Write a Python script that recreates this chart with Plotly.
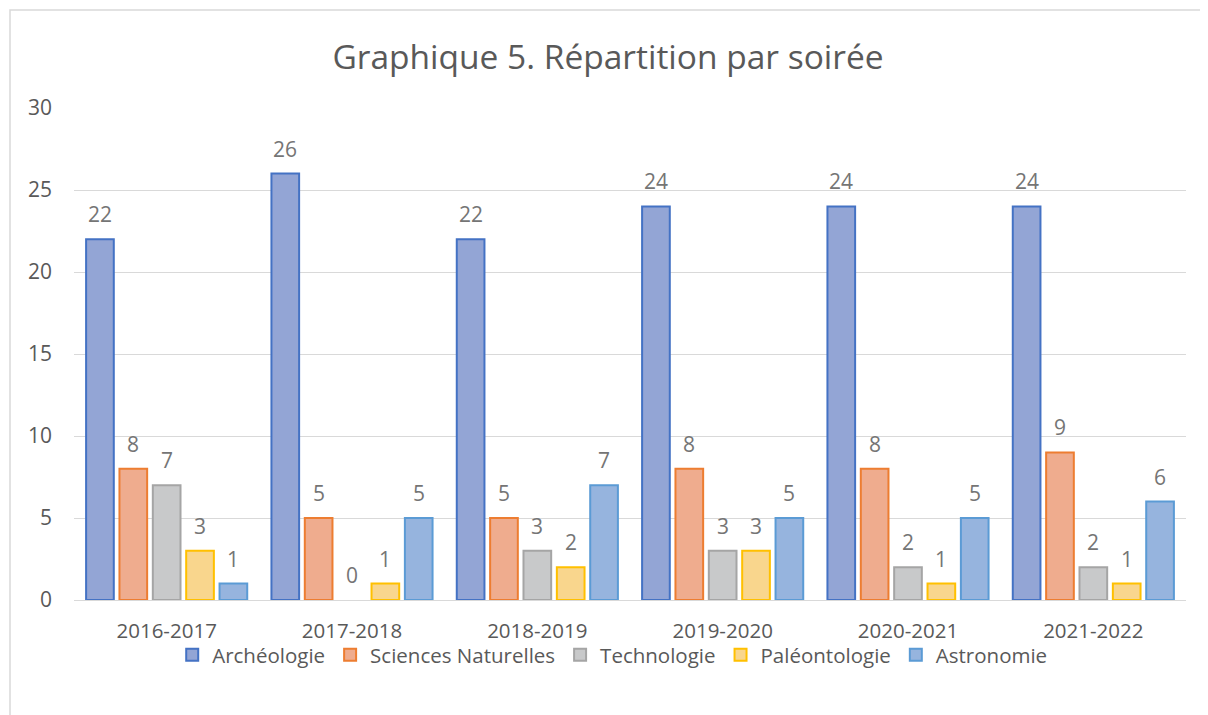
import plotly.graph_objects as go

saisons = ["2016-2017", "2017-2018", "2018-2019", "2019-2020", "2020-2021", "2021-2022"]

archeologie = [22, 26, 22, 24, 24, 24]
sciences_naturelles = [8, 5, 5, 8, 8, 9]
technologie = [7, 0, 3, 3, 2, 2]
paleontologie = [3, 1, 2, 3, 1, 1]
astronomie = [1, 5, 7, 5, 5, 6]

series = [
    ("Archéologie", archeologie, "#93A5D5", "#4472C4"),
    ("Sciences Naturelles", sciences_naturelles, "#EFAC8E", "#ED7D31"),
    ("Technologie", technologie, "#C8C9CA", "#A5A5A5"),
    ("Paléontologie", paleontologie, "#F9D68D", "#FFC000"),
    ("Astronomie", astronomie, "#96B4DE", "#5B9BD5"),
]

# the page has an 8px body margin, so the figure is a bit smaller than the window
W, H = 1200, 707
ml, mr, mt, mb = 66, 22, 100, 115
pw, ph = W - ml - mr, H - mt - mb

bargap = 0.10
bargroupgap = 0.17
slot = pw / len(saisons) * (1 - bargap) / len(series)

FONT = "Open Sans"
GREY = "#595959"

fig = go.Figure()

for i, (name, vals, fill, line) in enumerate(series):
    fig.add_trace(go.Bar(
        x=saisons,
        y=vals,
        name=name,
        marker=dict(
            color=fill,
            line=dict(color=line, width=[2 if v > 0 else 0 for v in vals]),
        ),
    ))
    # value labels above each bar
    for s, v in zip(saisons, vals):
        fig.add_annotation(
            x=s, y=v, xref="x", yref="y",
            text=str(v),
            showarrow=False,
            xanchor="center",
            yanchor="bottom",
            xshift=(i - (len(series) - 1) / 2) * slot,
            yshift=9,
            font=dict(size=21, color="#757575", family=FONT),
        )

# light frame around the chart, its right and bottom edges fall off the page
fig.add_shape(
    type="rect", xref="paper", yref="paper",
    x0=(2 - ml) / pw, x1=(W + 30 - ml) / pw,
    y0=-(mb + 30) / ph, y1=(H - mb - 2) / ph,
    line=dict(color="#D9D9D9", width=1.5),
    fillcolor="rgba(0,0,0,0)",
    layer="below",
)

fig.update_layout(
    width=W,
    height=H,
    margin=dict(l=ml, r=mr, t=mt, b=mb),
    paper_bgcolor="white",
    plot_bgcolor="white",
    barmode="group",
    bargap=bargap,
    bargroupgap=bargroupgap,
    font=dict(family=FONT, color=GREY),
    title=dict(
        text="Graphique 5. Répartition par soirée",
        x=0.5,
        xanchor="center",
        y=1 - 49 / H,
        yanchor="middle",
        font=dict(size=33.5, color=GREY, family=FONT),
    ),
    xaxis=dict(
        showgrid=False,
        showline=True,
        linecolor="#D9D9D9",
        linewidth=1,
        ticks="",
        tickfont=dict(size=20.5, color=GREY),
        ticklabelstandoff=12,
    ),
    yaxis=dict(
        range=[0, 30],
        dtick=5,
        showgrid=True,
        gridcolor="#D9D9D9",
        gridwidth=1,
        zeroline=False,
        showline=False,
        tickfont=dict(size=21, color=GREY),
        ticklabelstandoff=21,
    ),
    legend=dict(
        orientation="h",
        x=0.484,
        xanchor="center",
        y=-(647 - (H - mb)) / ph,
        yanchor="middle",
        bgcolor="rgba(0,0,0,0)",
        font=dict(size=20.5, color=GREY),
        itemwidth=30,
        traceorder="normal",
    ),
)

fig.write_html("out.html")
